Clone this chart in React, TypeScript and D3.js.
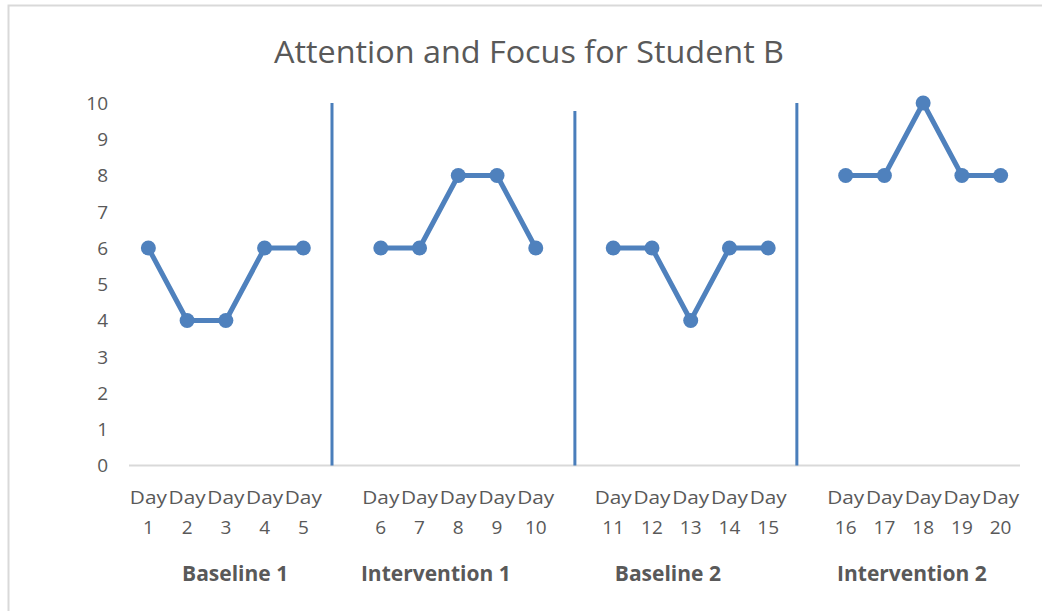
import React from "react";
import * as d3 from "d3";

const title = "Attention and Focus for Student B";
const phases = ["Baseline 1", "Intervention 1", "Baseline 2", "Intervention 2"];
const dayLabels = [
  "1", "2", "3", "4", "5",
  "6", "7", "8", "9", "10",
  "11", "12", "13", "14", "15",
  "16", "17", "18", "19", "20",
];
const scores = [
  6, 4, 4, 6, 6,
  6, 6, 8, 8, 6,
  6, 6, 4, 6, 6,
  8, 8, 10, 8, 8,
];
const daysPerPhase = 5;
const yTicks = [0, 1, 2, 3, 4, 5, 6, 7, 8, 9, 10];
// phase-change lines, in category units, with their top value
const separatorPos = [5.24, 11.51, 17.24];
const separatorTop = [10, 9.78, 10];
// phase label centres, in category units
const phaseLabelPos = [2.74, 7.92, 13.91, 20.21];

const W = 1042;
const H = 611;
const BLUE = "#4f81bd";
const TEXT = "#595959";
const FONT = "'Open Sans', 'Liberation Sans', sans-serif";

export default function App() {
  const nSlots = scores.length + phases.length - 1; // 23 with blank slots
  const x = d3.scaleLinear().domain([0, nSlots]).range([129, 1020]);
  const y = d3.scaleLinear().domain([0, 10]).range([465.5, 103]);

  const pts = scores.map((v, i) => {
    const p = Math.floor(i / daysPerPhase);
    const slot = i + p;
    return { v, i, p, cx: x(slot + 0.5), cy: y(v) };
  });

  const line = d3
    .line<{ cx: number; cy: number }>()
    .x((d) => d.cx)
    .y((d) => d.cy);

  return (
    <svg width={W} height={H} style={{ position: "absolute", left: 0, top: 0 }}>
      <rect x={0} y={0} width={W} height={H} fill="#fff" />
      <rect x={8.5} y={5.5} width={W + 20} height={H + 20} fill="none" stroke="#d9d9d9" strokeWidth={2} />
      <text
        x={529}
        y={63}
        textAnchor="middle"
        fontFamily={FONT}
        fontSize={31}
        fill={TEXT}
        textLength={510}
        lengthAdjust="spacingAndGlyphs"
      >
        {title}
      </text>

      {yTicks.map((t) => (
        <text
          key={t}
          x={108}
          y={y(t)}
          dy="0.36em"
          textAnchor="end"
          fontFamily={FONT}
          fontSize={19}
          fill={TEXT}
        >
          {t}
        </text>
      ))}

      <line x1={x(0)} x2={x(nSlots)} y1={y(0)} y2={y(0)} stroke="#d9d9d9" strokeWidth={2} />

      {separatorPos.map((s, k) => (
        <line
          key={k}
          x1={x(s)}
          x2={x(s)}
          y1={y(0)}
          y2={y(separatorTop[k])}
          stroke="#4a7ebb"
          strokeWidth={3}
        />
      ))}

      {phases.map((_, p) => {
        const seg = pts.filter((d) => d.p === p);
        return (
          <path
            key={p}
            d={line(seg) || ""}
            fill="none"
            stroke={BLUE}
            strokeWidth={5}
            strokeLinejoin="round"
          />
        );
      })}
      {pts.map((d) => (
        <circle key={d.i} cx={d.cx} cy={d.cy} r={7.5} fill={BLUE} />
      ))}

      {pts.map((d) => (
        <g key={"l" + d.i} fontFamily={FONT} fontSize={19} fill={TEXT} textAnchor="middle">
          <text x={d.cx} y={504} textLength={37} lengthAdjust="spacingAndGlyphs">Day</text>
          <text x={d.cx} y={534}>{dayLabels[d.i]}</text>
        </g>
      ))}

      {phases.map((ph, p) => (
        <text
          key={ph}
          x={x(phaseLabelPos[p])}
          y={581}
          textAnchor="middle"
          fontFamily={FONT}
          fontSize={21}
          fontWeight="bold"
          fill={TEXT}
        >
          {ph}
        </text>
      ))}
    </svg>
  );
}
